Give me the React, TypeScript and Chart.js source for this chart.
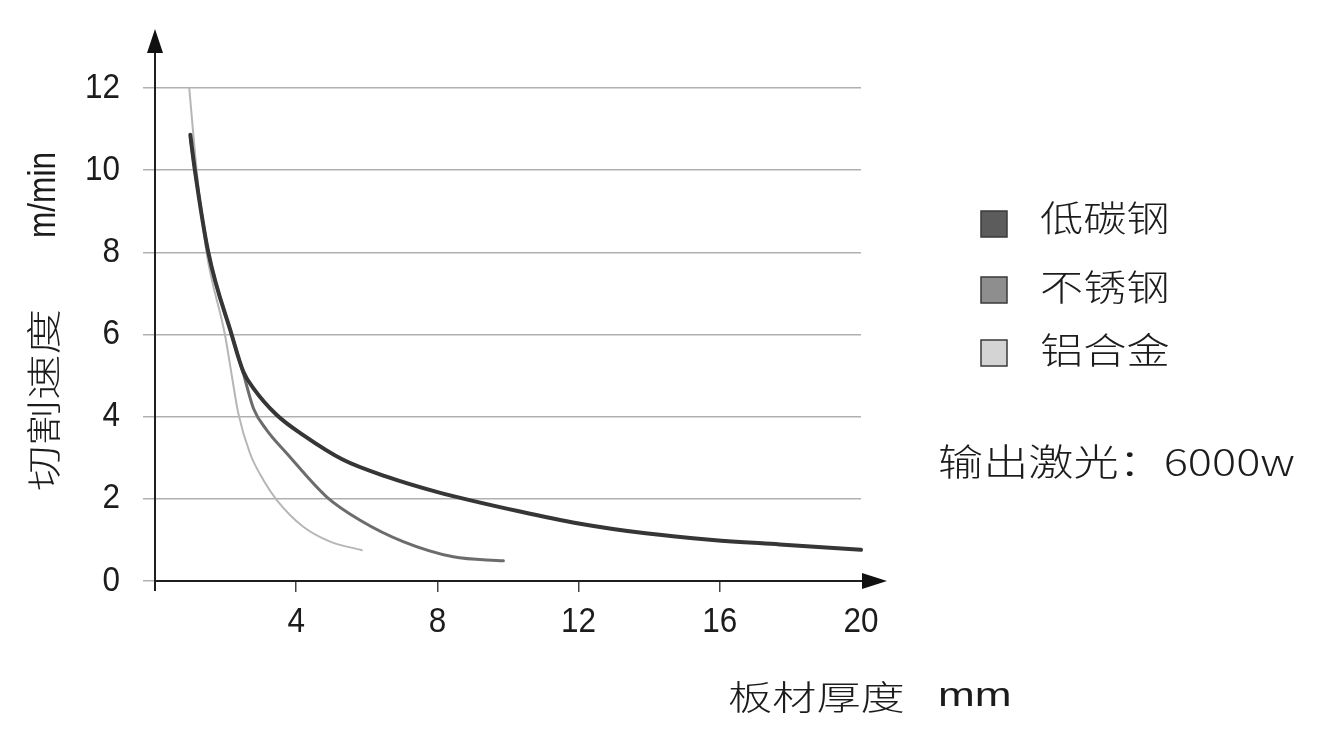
import React, { useEffect, useRef } from "react";
import { Chart, registerables } from "chart.js";

Chart.register(...registerables);

// ---- data ----
const lowCarbonX = [1.0, 1.13, 1.51, 2.17, 2.5, 2.79, 3.45, 4.2, 5.33, 6.56, 7.98, 10.34, 12.0, 13.9, 15.8, 17.7, 20.0];
const lowCarbonY = [10.86, 10.0, 8.0, 6.0, 5.1, 4.69, 4.04, 3.55, 2.95, 2.54, 2.17, 1.69, 1.4, 1.16, 1.0, 0.89, 0.76];

const stainlessX = [1.0, 1.13, 1.51, 2.17, 2.5, 2.79, 3.16, 3.73, 4.86, 5.81, 7.03, 8.45, 9.87];
const stainlessY = [10.8, 10.0, 8.0, 6.0, 5.06, 4.2, 3.68, 3.11, 2.05, 1.48, 0.96, 0.59, 0.49];

const aluminumX = [0.97, 1.18, 1.46, 1.98, 2.17, 2.36, 2.69, 3.07, 3.45, 4.2, 4.96, 5.86];
const aluminumY = [12.0, 10.0, 8.0, 6.0, 5.03, 4.08, 3.11, 2.46, 1.97, 1.32, 0.96, 0.75];

const seriesLabels = ["低碳钢", "不锈钢", "铝合金"];
const lineColors = ["#363636", "#6c6c6c", "#b6b6b6"];
const lineWidths = [4, 3, 2];
const boxColors = ["#5c5c5c", "#8e8e8e", "#d4d4d4"];

const yTickValues = [0, 2, 4, 6, 8, 10, 12];
const xTickValues = [4, 8, 12, 16, 20];
const xTitleCJK = "板材厚度";
const xTitleUnit = "mm";
const yTitleCJK = "切割速度";
const yTitleUnit = "m/min";
const noteText = "输出激光：6000w";

const CJK = "'Noto Sans CJK SC', 'Noto Sans', sans-serif";
const LAT = "'Liberation Sans', Arial, sans-serif";

function toPoints(xs: number[], ys: number[]) {
  return xs.map((x, i) => ({ x, y: ys[i] }));
}

function txt(
  ctx: CanvasRenderingContext2D,
  s: string,
  x: number,
  y: number,
  font: string,
  align: CanvasTextAlign,
  sx = 1,
  sy = 1,
  rot = 0,
  color = "#1c1c1c"
) {
  ctx.save();
  ctx.translate(x, y);
  if (rot) ctx.rotate(rot);
  ctx.scale(sx, sy);
  ctx.font = font;
  ctx.textAlign = align;
  ctx.textBaseline = "middle";
  ctx.fillStyle = color;
  ctx.fillText(s, 0, 0);
  ctx.restore();
}

const decorPlugin = {
  id: "decor",
  afterDraw(chart: any) {
    const ctx: CanvasRenderingContext2D = chart.ctx;
    const xs = chart.scales.x;
    const ys = chart.scales.y;
    const x0 = xs.getPixelForValue(0);
    const y0 = ys.getPixelForValue(0);
    const xEnd = xs.getPixelForValue(20);
    const yTop = ys.getPixelForValue(12);

    ctx.save();
    ctx.strokeStyle = "#1e1e1e";
    ctx.fillStyle = "#111111";
    ctx.lineWidth = 2;
    // y axis
    ctx.beginPath();
    ctx.moveTo(x0, y0 + 10);
    ctx.lineTo(x0, yTop - 36);
    ctx.stroke();
    ctx.beginPath();
    ctx.moveTo(x0, yTop - 59);
    ctx.lineTo(x0 - 8, yTop - 35);
    ctx.lineTo(x0 + 8, yTop - 35);
    ctx.closePath();
    ctx.fill();
    // x axis
    ctx.beginPath();
    ctx.moveTo(x0 - 1, y0);
    ctx.lineTo(xEnd + 2, y0);
    ctx.stroke();
    ctx.beginPath();
    ctx.moveTo(xEnd + 26, y0);
    ctx.lineTo(xEnd + 1, y0 - 8);
    ctx.lineTo(xEnd + 1, y0 + 8);
    ctx.closePath();
    ctx.fill();
    ctx.restore();

    // tick labels
    yTickValues.forEach((v) => {
      txt(ctx, String(v), x0 - 35, ys.getPixelForValue(v), `30px ${LAT}`, "right", 1.05, 1.15);
    });
    xTickValues.forEach((v) => {
      txt(ctx, String(v), xs.getPixelForValue(v), y0 + 41, `30px ${LAT}`, "center", 1.05, 1.15);
    });

    // axis titles
    txt(ctx, xTitleCJK, 728, 697, `300 34px ${CJK}`, "left", 1.3, 1);
    txt(ctx, xTitleUnit, 938, 697, `34px ${LAT}`, "left", 1.3, 1);
    txt(ctx, yTitleCJK, 44, 400, `300 35px ${CJK}`, "center", 1.3, 1, -Math.PI / 2);
    txt(ctx, yTitleUnit, 45, 195, `38px ${LAT}`, "center", 0.83, 1, -Math.PI / 2);

    // legend
    const rowsY = [224, 290, 353];
    const textY = [218, 287, 350];
    chart.data.datasets.forEach((ds: any, i: number) => {
      ctx.save();
      ctx.fillStyle = boxColors[i];
      ctx.strokeStyle = "#3a3a3a";
      ctx.lineWidth = 1.5;
      ctx.fillRect(981, rowsY[i] - 13, 26, 26);
      ctx.strokeRect(981, rowsY[i] - 13, 26, 26);
      ctx.restore();
      txt(ctx, ds.label, 1040, textY[i], `300 36px ${CJK}`, "left", 1.2, 1);
    });

    // note
    txt(ctx, noteText, 938, 462, `300 37px ${CJK}`, "left", 1.22, 1);
  },
};

export default function App() {
  const ref = useRef<HTMLCanvasElement | null>(null);

  useEffect(() => {
    if (!ref.current) return;
    const seriesX = [lowCarbonX, stainlessX, aluminumX];
    const seriesY = [lowCarbonY, stainlessY, aluminumY];
    const chart = new Chart(ref.current, {
      type: "scatter",
      data: {
        datasets: seriesLabels.map((label, i) => ({
          label,
          data: toPoints(seriesX[i], seriesY[i]),
          showLine: true,
          borderColor: lineColors[i],
          backgroundColor: lineColors[i],
          borderWidth: lineWidths[i],
          pointRadius: 0,
          pointHoverRadius: 0,
          cubicInterpolationMode: "monotone",
          borderCapStyle: "round",
          borderJoinStyle: "round",
          fill: false,
          clip: false,
        })),
      } as any,
      options: {
        animation: false,
        responsive: false,
        maintainAspectRatio: false,
        events: [],
        layout: { padding: { left: 0, top: 88, right: 467, bottom: 0 } },
        plugins: {
          legend: { display: false },
          tooltip: { enabled: false },
          title: { display: false },
        },
        scales: {
          x: {
            type: "linear",
            min: 0,
            max: 20,
            ticks: { display: false, stepSize: 4 },
            afterBuildTicks: (scale: any) => {
              scale.ticks = [4, 8, 12, 16].map((v) => ({ value: v }));
            },
            afterFit: (scale: any) => {
              scale.height = 175;
            },
            grid: {
              display: true,
              drawOnChartArea: false,
              drawTicks: true,
              tickLength: 11,
              color: "#444444",
              lineWidth: 1.5,
            },
            border: { display: false },
          },
          y: {
            type: "linear",
            min: 0,
            max: 12,
            ticks: { display: false, stepSize: 2 },
            afterFit: (scale: any) => {
              scale.width = 155;
            },
            grid: {
              display: true,
              drawOnChartArea: true,
              drawTicks: true,
              tickLength: 12,
              color: "#b0b0b0",
              lineWidth: 1.5,
            },
            border: { display: false },
          },
        },
      } as any,
      plugins: [decorPlugin],
    });
    return () => chart.destroy();
  }, []);

  return (
    <div style={{ position: "absolute", left: 0, top: 0, width: 1328, height: 756, background: "#ffffff" }}>
      <canvas ref={ref} width={1328} height={756} style={{ display: "block", width: 1328, height: 756 }} />
    </div>
  );
}
